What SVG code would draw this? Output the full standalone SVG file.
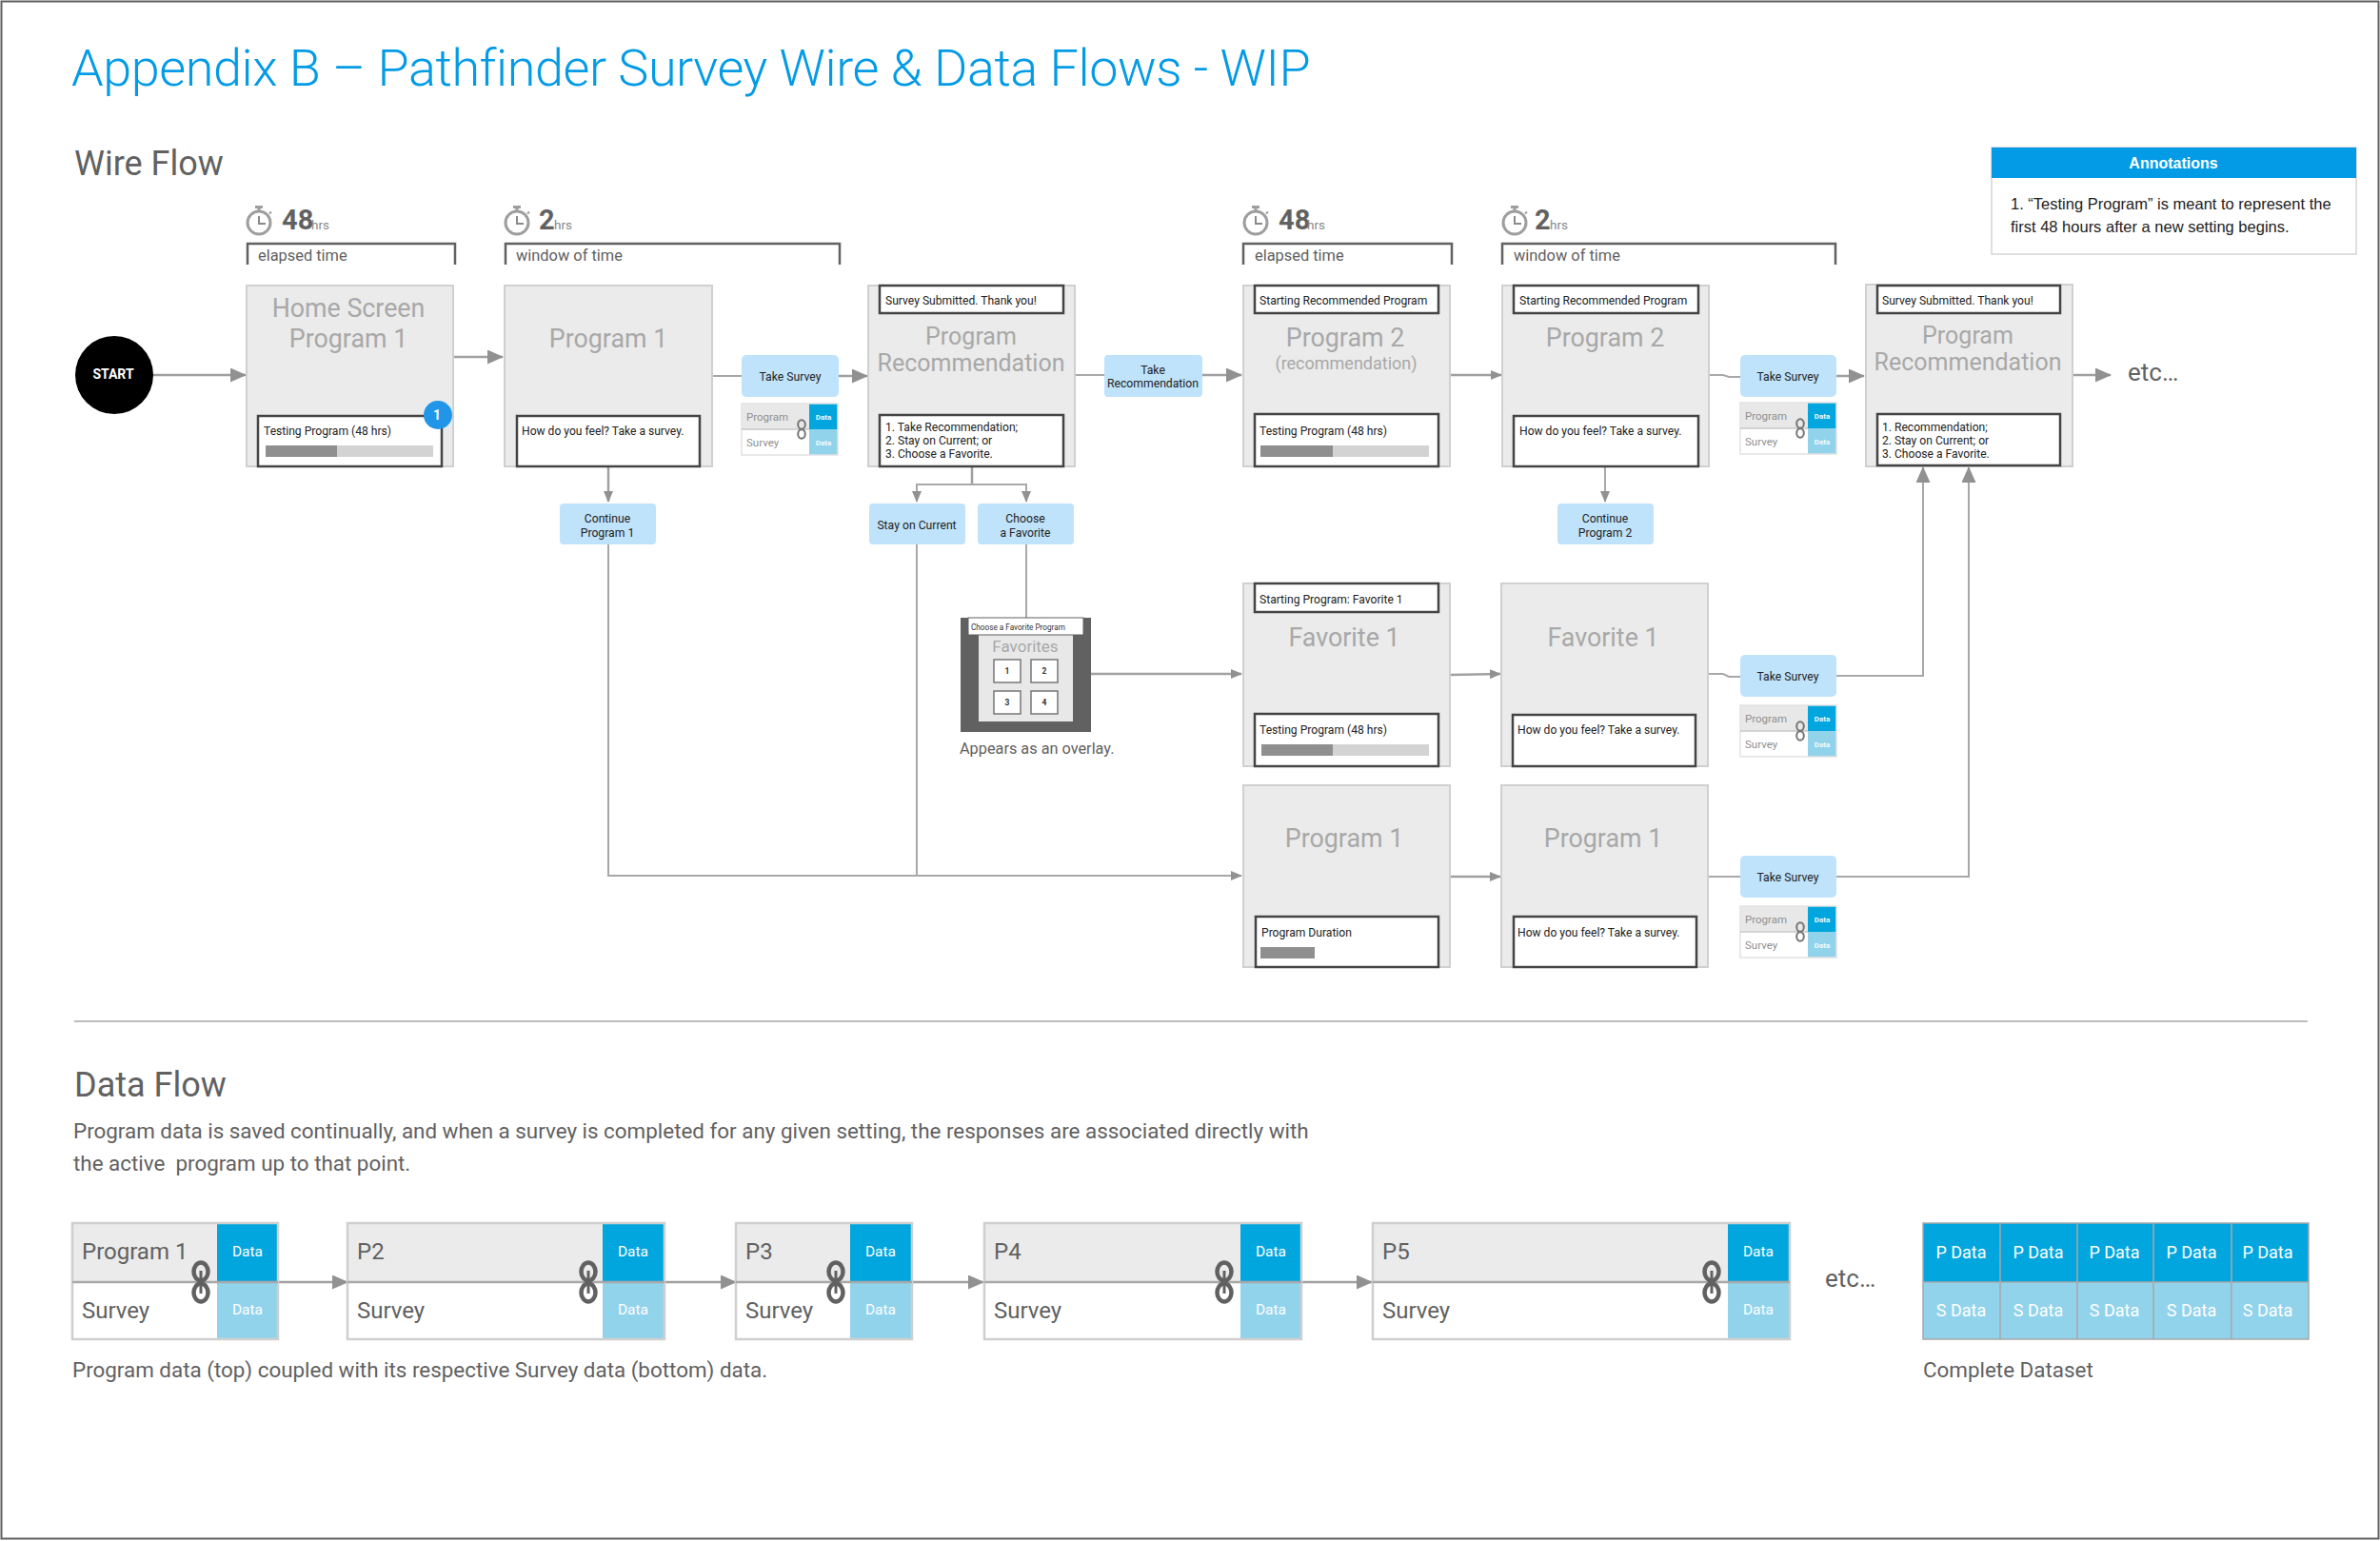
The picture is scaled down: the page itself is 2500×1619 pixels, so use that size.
<svg xmlns="http://www.w3.org/2000/svg" xmlns:xlink="http://www.w3.org/1999/xlink" width="2500" height="1619" viewBox="0 0 2500 1619">
<style>
text{font-family:Roboto,"Liberation Sans",sans-serif}
.scr{fill:#ebebeb;stroke:#d0d0d0;stroke-width:2}
.in{fill:#fff;stroke:#444;stroke-width:2.5}
.btn{fill:#bfe3fb}
.bt{font-size:12.2px;fill:#222;text-anchor:middle}
.tt{font-size:12.1px;fill:#222}
.big{font-size:26.800px;fill:#a8a8a8;text-anchor:middle}
.rec{font-size:25px;fill:#a8a8a8;text-anchor:middle}
.br{fill:none;stroke:#616161;stroke-width:2.5}
.brt{font-size:16.400px;fill:#616161}
.num{font-size:29px;font-weight:700;fill:#616161}
.hrs{font-size:13.5px;fill:#8a8a8a}
.h{font-size:36px;fill:#616161}
.p{font-size:22.400px;fill:#616161}
.c{fill:none;stroke:#a8a8a8;stroke-width:2}
.c3{fill:none;stroke:#a0a0a0;stroke-width:2.5}
.bd{fill:#ebebeb}
.dk{fill:#02a6df}
.lt{fill:#92d3ec}
.fr{fill:none;stroke:#cfcfcf;stroke-width:2.5}
.dd{font-size:15.500px;fill:#fff;text-anchor:middle}
.lab{font-size:24px;fill:#616161}
.mt{font-size:11.500px;fill:#8f8f8f}
.md{font-size:8px;font-weight:700;fill:#f2fbff;text-anchor:middle}
.bar0{fill:#d3d3d3}
.bar1{fill:#8f8f8f}
.cell{fill:none;stroke:#a8a8a8;stroke-width:1.5}
</style>
<defs>
<marker id="a" markerWidth="12" markerHeight="12" refX="11" refY="5" orient="auto" markerUnits="userSpaceOnUse"><path d="M0 0L12 5L0 10Z" fill="#919191"/></marker>
<marker id="b" markerWidth="17" markerHeight="16" refX="16" refY="7.500" orient="auto" markerUnits="userSpaceOnUse"><path d="M0 0L17 7.500L0 15Z" fill="#919191"/></marker>
<g id="watch" fill="none" stroke="#9e9e9e"><circle cx="272" cy="234" r="12" stroke-width="3"/><path d="M268 217.500H276M272 217.500V222" stroke-width="3"/><path d="M272 227V235H279" stroke-width="2" stroke="#8a8a8a"/><path d="M283 224.500L285 222.500" stroke-width="2"/></g>
<g id="link" fill="none" stroke="#616161" stroke-width="4.500"><ellipse cx="0" cy="-11" rx="7.500" ry="9.500"/><ellipse cx="0" cy="11" rx="7.500" ry="9.500"/><path d="M0-12V12" stroke-width="3"/></g>
<g id="mlink" fill="none" stroke="#757575" stroke-width="2"><ellipse cx="0" cy="-5" rx="3.800" ry="4.800"/><ellipse cx="0" cy="5" rx="3.800" ry="4.800"/></g>
<g id="mini"><rect x="0" y="0" width="71" height="27" fill="#e8e8e8"/><rect x="0" y="27" width="71" height="27" fill="#fff"/><rect x="71" width="30" height="27" class="dk"/><rect x="71" y="27" width="30" height="27" class="lt"/><rect width="101" height="54" fill="none" stroke="#e2e2e2" stroke-width="1.500"/><path d="M0 27H71" stroke="#c8c8c8" stroke-width="1.500"/><text x="5" y="18" class="mt">Program</text><text x="5" y="45" class="mt">Survey</text><text x="86" y="17" class="md">Data</text><text x="86" y="44" class="md">Data</text><use xlink:href="#mlink" x="63" y="27"/></g>
</defs>
<rect x="1.500" y="1.500" width="2497" height="1615" fill="#fff" stroke="#616161" stroke-width="2"/>
<text id="title" x="75" y="90" font-size="54" font-weight="300" letter-spacing="-0.46" fill="#039be5">Appendix B – Pathfinder Survey Wire &amp; Data Flows - WIP</text>
<text id="wire-flow-title" x="78" y="184" class="h">Wire Flow</text>
<g id="connectors">
<path class="c3" marker-end="url(#b)" d="M161 394H258"/>
<path class="c3" marker-end="url(#b)" d="M476 375H528"/>
<path class="c" d="M748 395H779"/>
<path class="c3" marker-end="url(#b)" d="M881 395H911"/>
<path class="c3" marker-end="url(#a)" d="M639 491V527"/>
<path class="c" marker-end="url(#a)" d="M639 572V920H1304"/>
<path class="c" d="M963 572V920"/>
<path class="c3" d="M1021 490V509"/>
<path class="c" marker-end="url(#a)" d="M1021 509H963V527"/>
<path class="c" marker-end="url(#a)" d="M1021 509H1078V527"/>
<path class="c" d="M1078 572V650"/>
<path class="c" d="M1129 394H1160"/>
<path class="c3" marker-end="url(#b)" d="M1263 394H1304"/>
<path class="c3" marker-end="url(#a)" d="M1523 394H1577"/>
<path class="c" marker-end="url(#a)" d="M1686 490V527"/>
<path class="c" d="M1795 394H1810L1816 396H1828"/>
<path class="c3" marker-end="url(#b)" d="M1929 395H1958"/>
<path class="c3" marker-end="url(#b)" d="M2177 394H2217"/>
<path class="c3" marker-end="url(#a)" d="M1146 708H1304"/>
<path class="c3" marker-end="url(#a)" d="M1523 709L1576 708"/>
<path class="c" d="M1795 708H1810L1816 711H1828"/>
<path class="c" marker-end="url(#b)" d="M1929 710H2020V491"/>
<path class="c3" marker-end="url(#a)" d="M1523 921H1576"/>
<path class="c" d="M1795 921H1828"/>
<path class="c" marker-end="url(#b)" d="M1929 921H2068V491"/>
<path class="c3" marker-end="url(#b)" d="M292 1347H365"/>
<path class="c3" marker-end="url(#b)" d="M698 1347H773"/>
<path class="c3" marker-end="url(#b)" d="M958 1347H1033"/>
<path class="c3" marker-end="url(#b)" d="M1367 1347H1441"/>
</g>
<g id="start"><circle cx="120" cy="394" r="41" fill="#000"/><text x="119" y="398" font-size="14" font-weight="700" fill="#fff" text-anchor="middle">START</text></g>
<g id="timer-1"><use xlink:href="#watch"/><text x="296" y="241" class="num">48</text><text x="327" y="241" class="hrs">hrs</text><path class="br" d="M260 278V256H478V278"/><text x="271" y="274" class="brt">elapsed time</text></g>
<g id="timer-2"><use xlink:href="#watch" x="271"/><text x="566" y="241" class="num">2</text><text x="582" y="241" class="hrs">hrs</text><path class="br" d="M531 278V256H882V278"/><text x="542" y="274" class="brt">window of time</text></g>
<g id="timer-3"><use xlink:href="#watch" x="1047"/><text x="1343" y="241" class="num">48</text><text x="1373" y="241" class="hrs">hrs</text><path class="br" d="M1306 278V256H1525V278"/><text x="1318" y="274" class="brt">elapsed time</text></g>
<g id="timer-4"><use xlink:href="#watch" x="1319"/><text x="1612" y="241" class="num">2</text><text x="1628" y="241" class="hrs">hrs</text><path class="br" d="M1578 278V256H1928V278"/><text x="1590" y="274" class="brt">window of time</text></g>
<g id="home-screen"><rect x="259" y="300" width="217" height="190" class="scr"/><text x="366" y="333" class="big">Home Screen</text><text x="366" y="365" class="big">Program 1</text><rect x="271" y="437" width="193" height="53" class="in"/><text x="277" y="457" class="tt">Testing Program (48 hrs)</text><rect x="279" y="468" width="176" height="12" class="bar0"/><rect x="279" y="468" width="75" height="12" class="bar1"/><circle cx="460" cy="436" r="15" fill="#2196e8"/><text x="459" y="441" font-size="14" font-weight="700" fill="#fff" text-anchor="middle">1</text></g>
<g id="program-1"><rect x="530" y="300" width="218" height="190" class="scr"/><text x="639" y="365" class="big">Program 1</text><rect x="543" y="437" width="192" height="53" class="in"/><text x="548" y="457" class="tt">How do you feel? Take a survey.</text></g>
<g id="take-survey-1"><rect x="779" y="373" width="102" height="44" rx="5" class="btn"/><text x="830" y="400" class="bt">Take Survey</text><use xlink:href="#mini" x="779" y="424"/></g>
<g id="continue-1"><rect x="588" y="529" width="101" height="43" rx="4" class="btn"/><text x="638" y="549" class="bt">Continue</text><text x="638" y="564" class="bt">Program 1</text></g>
<g id="recommendation-1"><rect x="912" y="300" width="217" height="190" class="scr"/><rect x="924" y="300" width="193" height="29" class="in"/><text x="930" y="320" class="tt">Survey Submitted. Thank you!</text><text x="1020" y="362" class="rec">Program</text><text x="1020" y="390" class="rec">Recommendation</text><rect x="924" y="436" width="193" height="54" class="in"/><text x="930" y="453" class="tt">1. Take Recommendation;</text><text x="930" y="467" class="tt">2. Stay on Current; or</text><text x="930" y="481" class="tt">3. Choose a Favorite.</text></g>
<g id="take-recommendation"><rect x="1160" y="373" width="103" height="44" rx="4" class="btn"/><text x="1211" y="393" class="bt">Take</text><text x="1211" y="407" class="bt">Recommendation</text></g>
<g id="stay-on-current"><rect x="913" y="529" width="101" height="43" rx="4" class="btn"/><text x="963" y="556" class="bt">Stay on Current</text></g>
<g id="choose-favorite"><rect x="1027" y="529" width="101" height="43" rx="4" class="btn"/><text x="1077" y="549" class="bt">Choose</text><text x="1077" y="564" class="bt">a Favorite</text></g>
<g id="program-2"><rect x="1306" y="300" width="217" height="190" class="scr"/><rect x="1318" y="300" width="193" height="29" class="in"/><text x="1323" y="320" class="tt">Starting Recommended Program</text><text x="1413" y="364" class="big">Program 2</text><text x="1414" y="388" font-size="18" fill="#a8a8a8" text-anchor="middle">(recommendation)</text><rect x="1318" y="435" width="193" height="55" class="in"/><text x="1323" y="457" class="tt">Testing Program (48 hrs)</text><rect x="1324" y="468" width="177" height="12" class="bar0"/><rect x="1324" y="468" width="76" height="12" class="bar1"/></g>
<g id="program-2-survey"><rect x="1578" y="300" width="217" height="190" class="scr"/><rect x="1590" y="300" width="194" height="29" class="in"/><text x="1596" y="320" class="tt">Starting Recommended Program</text><text x="1686" y="364" class="big">Program 2</text><rect x="1590" y="437" width="194" height="53" class="in"/><text x="1596" y="457" class="tt">How do you feel? Take a survey.</text></g>
<g id="continue-2"><rect x="1636" y="529" width="101" height="43" rx="4" class="btn"/><text x="1686" y="549" class="bt">Continue</text><text x="1686" y="564" class="bt">Program 2</text></g>
<g id="take-survey-2"><rect x="1828" y="373" width="101" height="44" rx="5" class="btn"/><text x="1878" y="400" class="bt">Take Survey</text><use xlink:href="#mini" x="1828" y="423"/></g>
<g id="recommendation-2"><rect x="1960" y="299" width="217" height="191" class="scr"/><rect x="1972" y="300" width="192" height="29" class="in"/><text x="1977" y="320" class="tt">Survey Submitted. Thank you!</text><text x="2067" y="361" class="rec">Program</text><text x="2067" y="389" class="rec">Recommendation</text><rect x="1972" y="435" width="192" height="54" class="in"/><text x="1977" y="453" class="tt">1. Recommendation;</text><text x="1977" y="467" class="tt">2. Stay on Current; or</text><text x="1977" y="481" class="tt">3. Choose a Favorite.</text></g>
<text id="etc-wire" x="2235" y="400" font-size="26" fill="#616161">etc…</text>
<g id="annotations"><rect x="2092" y="155" width="383" height="112" fill="#fff" stroke="#d5d5d5" stroke-width="1.500"/><rect x="2092" y="155" width="383" height="32" fill="#039be5"/><text x="2283" y="177" font-size="16" font-weight="700" fill="#fff" text-anchor="middle" style="font-family:'Liberation Sans',sans-serif">Annotations</text><text x="2112" y="220" font-size="16.500" fill="#222" style="font-family:'Liberation Sans',sans-serif">1. “Testing Program” is meant to represent the</text><text x="2112" y="244" font-size="16.500" fill="#222" style="font-family:'Liberation Sans',sans-serif">first 48 hours after a new setting begins.</text></g>
<g id="favorites-overlay"><rect x="1009" y="649" width="137" height="120" fill="#616161"/><rect x="1028" y="667" width="99" height="91" fill="#e8e8e8"/><rect x="1017" y="649" width="121" height="18" fill="#fff" stroke="#616161"/><text x="1020" y="662" font-size="8.200" fill="#333">Choose a Favorite Program</text><text x="1077" y="685" font-size="17" fill="#a8a8a8" text-anchor="middle">Favorites</text>
<g fill="#fff" stroke="#777" stroke-width="1.500"><rect x="1044" y="693" width="28" height="24"/><rect x="1083" y="693" width="28" height="24"/><rect x="1044" y="726" width="28" height="24"/><rect x="1083" y="726" width="28" height="24"/></g>
<g font-size="8.500" font-weight="700" fill="#333" text-anchor="middle"><text x="1058" y="708">1</text><text x="1097" y="708">2</text><text x="1058" y="741">3</text><text x="1097" y="741">4</text></g></g>
<text id="overlay-note" x="1008" y="792" font-size="16.300" fill="#616161">Appears as an overlay.</text>
<g id="favorite-1"><rect x="1306" y="613" width="217" height="192" class="scr"/><rect x="1318" y="613" width="193" height="30" class="in"/><text x="1323" y="634" class="tt">Starting Program: Favorite 1</text><text x="1412" y="679" class="big">Favorite 1</text><rect x="1318" y="750" width="193" height="55" class="in"/><text x="1323" y="771" class="tt">Testing Program (48 hrs)</text><rect x="1325" y="782" width="176" height="12" class="bar0"/><rect x="1325" y="782" width="75" height="12" class="bar1"/></g>
<g id="favorite-1-survey"><rect x="1577" y="613" width="217" height="192" class="scr"/><text x="1684" y="679" class="big">Favorite 1</text><rect x="1589" y="751" width="192" height="54" class="in"/><text x="1594" y="771" class="tt">How do you feel? Take a survey.</text></g>
<g id="take-survey-3"><rect x="1828" y="688" width="101" height="44" rx="5" class="btn"/><text x="1878" y="715" class="bt">Take Survey</text><use xlink:href="#mini" x="1828" y="741"/></g>
<g id="program-1-cont"><rect x="1306" y="825" width="217" height="191" class="scr"/><text x="1412" y="890" class="big">Program 1</text><rect x="1319" y="963" width="192" height="53" class="in"/><text x="1325" y="984" class="tt">Program Duration</text><rect x="1324" y="995" width="57" height="12" class="bar1"/></g>
<g id="program-1-survey"><rect x="1577" y="825" width="217" height="191" class="scr"/><text x="1684" y="890" class="big">Program 1</text><rect x="1590" y="963" width="192" height="53" class="in"/><text x="1594" y="984" class="tt">How do you feel? Take a survey.</text></g>
<g id="take-survey-4"><rect x="1828" y="899" width="101" height="44" rx="5" class="btn"/><text x="1878" y="926" class="bt">Take Survey</text><use xlink:href="#mini" x="1828" y="952"/></g>
<path id="divider" d="M78 1073H2424" stroke="#bdbdbd" stroke-width="2" fill="none"/>
<text id="data-flow-title" x="78" y="1152" class="h">Data Flow</text>
<text id="data-flow-p1" x="77" y="1196" class="p">Program data is saved continually, and when a survey is completed for any given setting, the responses are associated directly with</text>
<text id="data-flow-p2" x="77" y="1230" class="p" style="white-space:pre">the active  program up to that point.</text>
<g id="flow-p1"><rect x="76" y="1285" width="152" height="62" class="bd"/><rect x="76" y="1347" width="152" height="60" fill="#fff"/><rect x="228" y="1285" width="64" height="62" class="dk"/><rect x="228" y="1347" width="64" height="60" class="lt"/><rect x="76" y="1285" width="216" height="122" class="fr"/><path d="M76 1347H292" stroke="#a8a8a8" stroke-width="2.500"/><text x="86" y="1323" class="lab">Program 1</text><text x="86" y="1385" class="lab">Survey</text><text x="260" y="1320" class="dd">Data</text><text x="260" y="1381" class="dd">Data</text><use xlink:href="#link" x="211" y="1347"/></g>
<g id="flow-p2"><rect x="365" y="1285" width="268" height="62" class="bd"/><rect x="365" y="1347" width="268" height="60" fill="#fff"/><rect x="633" y="1285" width="65" height="62" class="dk"/><rect x="633" y="1347" width="65" height="60" class="lt"/><rect x="365" y="1285" width="333" height="122" class="fr"/><path d="M365 1347H698" stroke="#a8a8a8" stroke-width="2.500"/><text x="375" y="1323" class="lab">P2</text><text x="375" y="1385" class="lab">Survey</text><text x="665" y="1320" class="dd">Data</text><text x="665" y="1381" class="dd">Data</text><use xlink:href="#link" x="618" y="1347"/></g>
<g id="flow-p3"><rect x="773" y="1285" width="120" height="62" class="bd"/><rect x="773" y="1347" width="120" height="60" fill="#fff"/><rect x="893" y="1285" width="65" height="62" class="dk"/><rect x="893" y="1347" width="65" height="60" class="lt"/><rect x="773" y="1285" width="185" height="122" class="fr"/><path d="M773 1347H958" stroke="#a8a8a8" stroke-width="2.500"/><text x="783" y="1323" class="lab">P3</text><text x="783" y="1385" class="lab">Survey</text><text x="925" y="1320" class="dd">Data</text><text x="925" y="1381" class="dd">Data</text><use xlink:href="#link" x="878" y="1347"/></g>
<g id="flow-p4"><rect x="1034" y="1285" width="269" height="62" class="bd"/><rect x="1034" y="1347" width="269" height="60" fill="#fff"/><rect x="1303" y="1285" width="64" height="62" class="dk"/><rect x="1303" y="1347" width="64" height="60" class="lt"/><rect x="1034" y="1285" width="333" height="122" class="fr"/><path d="M1034 1347H1367" stroke="#a8a8a8" stroke-width="2.500"/><text x="1044" y="1323" class="lab">P4</text><text x="1044" y="1385" class="lab">Survey</text><text x="1335" y="1320" class="dd">Data</text><text x="1335" y="1381" class="dd">Data</text><use xlink:href="#link" x="1286" y="1347"/></g>
<g id="flow-p5"><rect x="1442" y="1285" width="373" height="62" class="bd"/><rect x="1442" y="1347" width="373" height="60" fill="#fff"/><rect x="1815" y="1285" width="65" height="62" class="dk"/><rect x="1815" y="1347" width="65" height="60" class="lt"/><rect x="1442" y="1285" width="438" height="122" class="fr"/><path d="M1442 1347H1880" stroke="#a8a8a8" stroke-width="2.500"/><text x="1452" y="1323" class="lab">P5</text><text x="1452" y="1385" class="lab">Survey</text><text x="1847" y="1320" class="dd">Data</text><text x="1847" y="1381" class="dd">Data</text><use xlink:href="#link" x="1798" y="1347"/></g>
<text id="etc-data" x="1917" y="1352" font-size="26" fill="#616161">etc…</text>
<g id="complete-dataset"><rect x="2020" y="1285" width="405" height="62" class="dk"/><rect x="2020" y="1347" width="405" height="60" class="lt"/><path class="cell" d="M2020 1285H2425V1407H2020ZM2020 1347H2425M2101 1285V1407M2182 1285V1407M2262 1285V1407M2344 1285V1407"/>
<g style="font-size:18px;fill:#fff;text-anchor:middle"><text x="2060" y="1322">P Data</text><text x="2141" y="1322">P Data</text><text x="2221" y="1322">P Data</text><text x="2302" y="1322">P Data</text><text x="2382" y="1322">P Data</text><text x="2060" y="1383">S Data</text><text x="2141" y="1383">S Data</text><text x="2221" y="1383">S Data</text><text x="2302" y="1383">S Data</text><text x="2382" y="1383">S Data</text></g></g>
<text id="caption" x="76" y="1447" class="p">Program data (top) coupled with its respective Survey data (bottom) data.</text>
<text id="dataset-caption" x="2020" y="1447" class="p">Complete Dataset</text>
</svg>
